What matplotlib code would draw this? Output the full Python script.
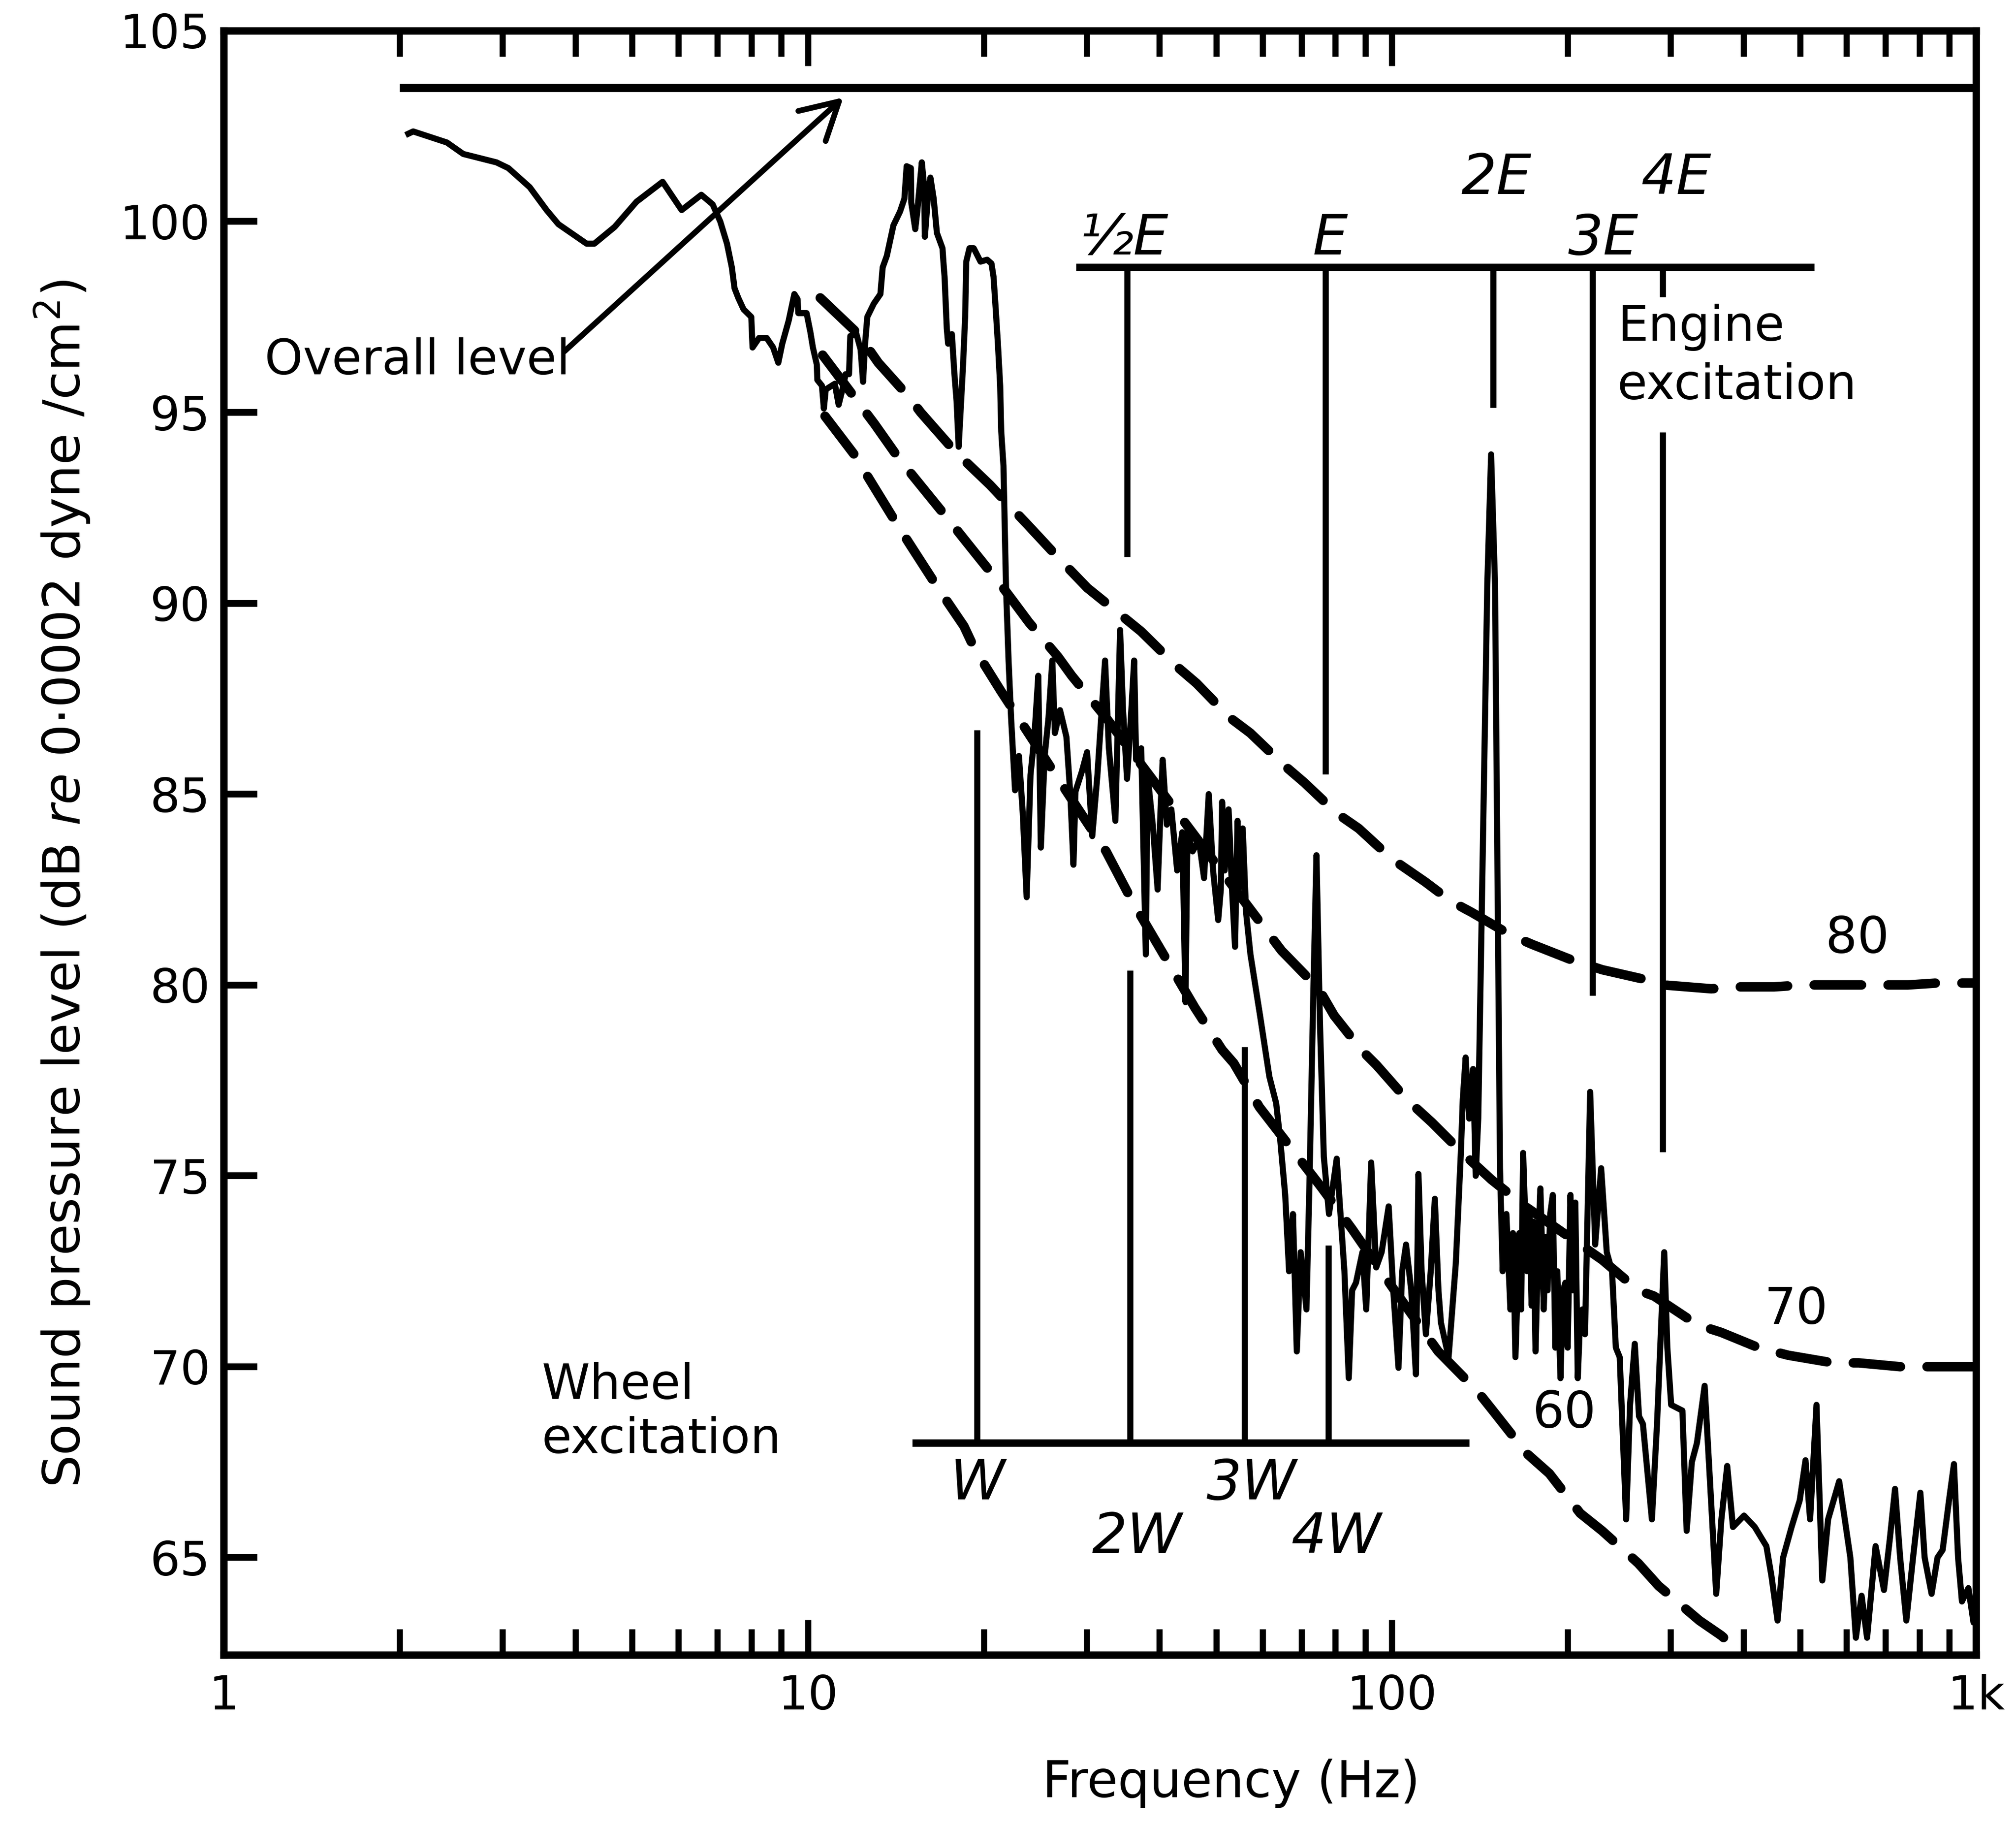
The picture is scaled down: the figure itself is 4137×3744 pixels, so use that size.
import matplotlib
matplotlib.use("Agg")
import matplotlib.pyplot as plt
from matplotlib.ticker import FixedLocator, LogLocator, NullFormatter

spec_low_hz = [2.07, 2.11, 2.41, 2.57, 2.93, 3.07, 3.34, 3.57, 3.74, 4.18,
               4.31, 4.67, 5.09, 5.64, 6.08, 6.57, 6.87, 7.08, 7.27, 7.41,
               7.49, 7.60, 7.76, 8.00, 8.04, 8.25, 8.50, 8.72, 8.90, 9.04,
               9.27, 9.48, 9.60, 9.63, 9.95, 10.10, 10.20, 10.36, 10.38, 10.57,
               10.65, 10.73, 11.12, 11.29, 11.50, 11.60, 11.76, 11.82, 12.11, 12.31,
               12.43, 12.53, 12.64, 12.97, 13.31, 13.43, 13.65, 14.01, 14.38, 14.63,
               14.76, 15.01, 15.03, 15.27, 15.39, 15.67, 15.82, 15.86, 16.08, 16.21,
               16.42, 16.63, 17.00, 17.07, 17.14, 17.29, 17.38, 17.64, 17.82, 17.97,
               18.12, 18.28, 18.43, 18.59, 18.67, 18.91, 19.23, 19.75, 20.27, 20.62,
               20.79, 20.97, 21.15, 21.34, 21.43, 21.62, 21.84, 22.06, 22.28, 22.63]
spec_low_db = [102.3, 102.36, 102.07, 101.77, 101.55, 101.4, 100.9, 100.3, 99.93, 99.42,
               99.42, 99.86, 100.52, 101.04, 100.3, 100.7, 100.45, 100.0, 99.42, 98.8,
               98.25, 98.0, 97.7, 97.5, 96.7, 96.95, 96.95, 96.7, 96.3, 96.8,
               97.4, 98.1, 97.97, 97.6, 97.6, 97.1, 96.7, 96.25, 95.85, 95.7,
               95.1, 95.6, 95.75, 95.2, 95.7, 96.0, 96.0, 97.0, 97.05, 96.65,
               95.8, 96.8, 97.5, 97.85, 98.1, 98.8, 99.1, 99.9, 100.26, 100.6,
               101.45, 101.4, 100.5, 99.8, 100.25, 101.55, 100.9, 99.6, 100.8, 101.15,
               100.6, 99.7, 99.3, 98.9, 98.55, 97.2, 96.8, 97.05, 96.0, 95.3,
               94.1, 95.2, 96.2, 97.5, 98.95, 99.3, 99.3, 98.95, 99.0, 98.9,
               98.55, 97.7, 96.8, 95.7, 94.5, 93.6, 90.4, 88.5, 87.0, 85.1]

spec_mid_hz = [22.98, 23.33, 23.69, 24.05, 24.42, 24.80, 25.05, 25.43, 25.82, 26.21,
               26.48, 27.02, 27.71, 28.14, 28.49, 28.72, 29.46, 30.06, 30.68, 31.31,
               31.78, 32.27, 32.76, 33.61, 33.95, 34.24, 34.64, 35.19, 35.73, 36.19,
               36.47, 37.21, 37.89, 38.16, 38.94, 39.7, 40.14, 40.5, 41.17, 41.91,
               42.88, 43.75, 44.31, 44.65, 45.57, 46.71, 47.67, 48.56, 49.40, 50.41,
               50.93, 51.2, 51.71, 52.51, 53.23, 53.86, 54.4, 54.68, 55.52, 56.26,
               57.24, 59.45, 61.67, 63.35,
               64.32, 65.64, 66.65, 67.68, 68.71, 69.77, 71.38, 72.28, 73.39, 74.26,
               75.29, 76.44, 78.01, 80.42, 81.89, 82.90, 84.34, 85.46, 86.77, 89.00,
               90.36, 92.13, 93.97, 96.0, 98.7, 100.5, 102.6, 104.1, 105.7, 107.9,
               109.9, 111.0, 112.4, 114.3, 116.5, 118.4, 120.1, 121.3, 125.0, 128.6,
               131.2, 132.2, 133.7, 135.6, 137.7, 139.1, 140.5, 145.6, 147.8, 150.1]
spec_mid_db = [86.0, 84.5, 82.3, 85.5, 86.5, 88.1, 83.6, 86.0, 87.0, 88.5,
               86.6, 87.2, 86.5, 85.0, 83.15, 85.07, 85.6, 86.1, 83.9, 85.5,
               87.0, 88.5, 86.2, 84.3, 87.0, 89.3, 87.2, 85.4, 87.0, 88.5,
               85.9, 86.2, 80.8, 85.5, 84.2, 82.5, 84.5, 85.9, 84.2, 84.6,
               83.0, 84.0, 79.55, 84.0, 83.5, 83.8, 82.8, 85.0, 83.0, 81.7,
               82.5, 84.8, 83.0, 84.6, 82.5, 81.0, 84.3, 82.5, 84.1, 81.9,
               80.8, 79.2, 77.6, 76.9,
               76.0, 74.5, 72.5, 74.0, 70.4, 73.0, 71.5, 75.0, 80.0, 83.4,
               79.0, 75.5, 74.0, 75.45, 73.7, 72.5, 69.7, 72.0, 72.2, 73.0,
               71.5, 75.35, 72.6, 73.0, 74.2, 72.0, 69.97, 72.5, 73.2, 72.0,
               69.8, 75.05, 72.5, 70.85, 72.5, 74.4, 72.0, 71.15, 70.25, 72.7,
               75.6, 77.0, 78.1, 76.5, 77.8, 75.0, 76.5, 90.5, 93.9, 90.5]

spec_high_hz = [153.1, 154.7, 157.0, 159.5, 161.1, 162.7, 165.2, 166.4, 167.7, 170.3,
                172.1, 173.4, 174.7, 176.1, 177.8, 179.5, 181.9, 183.3, 184.7, 186.6,
                188.5, 190.4, 191.9, 194.3, 196.3, 198.1, 199.9, 202.1, 204.0, 206.0,
                208.0, 210.1, 211.8, 214.0,
                218.4, 222.8, 228.1, 233.2, 238.1, 241.7, 245.4, 251.7,
                255.6, 260.4, 264.8, 268.9, 278.6, 284.3, 292.5, 296.1, 300.6, 314.2,
                319.5, 326.1, 332.7, 343.0, 350.9, 359.0, 366.4, 374.9, 383.5, 400.6,
                418.0, 437.5, 446.5, 457.2, 467.3, 483.2, 499.0, 510.5, 519.8, 533.1,
                545.4, 558.0, 582.9, 596.0, 609.2, 622.6, 636.8, 650.7, 672.9, 695.5,
                711.9, 726.5, 741.3, 759.6, 780.0, 802.8, 816.4, 839.1, 858.9, 876.5,
                898.9, 916.5, 931.5, 945.8, 970.1, 989.9, 1000.0]
spec_high_db = [75.2, 72.5, 74.0, 71.5, 73.5, 70.25, 73.5, 71.5, 75.6, 72.5,
                74.0, 71.6, 73.8, 70.4, 73.0, 74.67, 71.5, 73.4, 72.0, 74.0,
                74.5, 70.5, 72.5, 69.7, 72.0, 72.2, 70.5, 74.5, 72.0, 74.3,
                69.7, 71.4, 71.5, 70.85,
                77.2, 73.2, 75.2, 73.0, 72.5, 70.5, 70.25, 66.0,
                69.0, 70.6, 68.7, 68.5, 66.0, 68.5, 73.0, 70.5, 69.0, 68.85,
                65.7, 67.5, 68.0, 69.5, 66.8, 64.05, 66.0, 67.4, 65.8, 66.1,
                65.8, 65.3, 64.5, 63.35, 65.0, 65.8, 66.5, 67.55, 66.0, 69.0,
                64.4, 66.0, 67.0, 66.0, 65.0, 62.9, 64.0, 62.9, 65.3, 64.15,
                65.5, 66.8, 65.0, 63.35, 65.0, 66.7, 65.0, 64.05, 65.0, 65.2,
                66.5, 67.45, 65.0, 63.85, 64.2, 63.3, 63.4]

# dashed rating curves
nr80_hz = [10.5, 12.2, 13.2, 14.9, 15.6, 17.8, 20.5, 23.8, 26.8, 30.1,
           34.3, 37.2, 42.7, 46.3, 52.8, 57.2, 65.3, 70.8, 80.4, 87.7,
           100, 114, 126, 137, 160, 174, 202, 229, 270, 292,
           352, 391, 451, 504, 596, 656, 764, 855, 1000]
nr80_db = [98.0, 97.05, 96.3, 95.4, 95.0, 94.0, 93.1, 92.05, 91.2, 90.4,
           89.7, 89.26, 88.36, 87.9, 87.0, 86.6, 85.76, 85.3, 84.5, 84.1,
           83.3, 82.7, 82.2, 81.9, 81.3, 81.06, 80.67, 80.4, 80.15, 80.0,
           79.9, 79.95, 79.95, 80.0, 80.0, 80.0, 80.0, 80.05, 80.05]
nr70_hz = [10.6, 13.0, 14.3, 17.6, 21.6, 22.6, 23.9, 26.8, 28.3, 32.4,
           46.0, 64.7, 74.9, 79.6, 88.6, 94.1, 106, 117, 132, 148,
           169, 229, 264, 281, 333, 366, 424, 477, 569, 630,
           741, 837, 1000]
nr70_db = [96.5, 94.7, 93.8, 92.1, 90.4, 90.0, 89.5, 88.6, 88.1, 87.0,
           83.9, 80.9, 79.9, 79.2, 78.3, 77.9, 77.0, 76.4, 75.6, 74.9,
           74.2, 72.8, 72.0, 71.85, 71.1, 70.9, 70.5, 70.3, 70.1, 70.1,
           70.0, 70.0, 70.0]
nr60_hz = [10.7, 12.0, 14.3, 16.7, 18.5, 19.3, 21.4, 26.3, 32.4, 35.9,
           46.0, 51.2, 53.6, 59.3, 75.7, 85.5, 101, 120, 140, 149,
           170, 186, 210, 229, 264, 286, 336, 366, 418]
nr60_db = [94.9, 93.9, 92.0, 90.4, 89.4, 88.8, 87.7, 85.6, 83.5, 82.2,
           79.4, 78.3, 77.95, 76.8, 74.7, 73.6, 72.0, 70.4, 69.36, 68.84,
           67.73, 67.2, 66.16, 65.7, 64.85, 64.26, 63.35, 62.96, 62.2]
nr_labels = ["80", "70", "60"]

overall_hz = [2.0, 1000.0]
overall_db = 103.5

wheel_labels = ["W", "2W", "3W", "4W"]
wheel_hz = [19.5, 35.6, 55.9, 77.8]
wheel_top_db = [86.6, 80.3, 78.3, 73.1]
wheel_base_hz = [15.1, 135.6]
wheel_base_db = 68.0

engine_labels = ["½E", "E", "2E", "3E", "4E"]
engine_hz = [35.2, 77.0, 148.9, 220.5, 290.9]
engine_bottom_db = [91.3, 85.6, 95.2, 79.8, 75.7]
engine_base_hz = [28.8, 528.0]
engine_base_db = 98.8
engine_4e_gap_db = (98.1, 94.4)

FONT = "DejaVu Sans"
LW_AXES = 5.5


def setup_axes(ax):
    ax.set_xscale("log")
    ax.set_xlim(1, 1000)
    ax.set_ylim(62.45, 105)
    for side in ["left", "right", "top", "bottom"]:
        ax.spines[side].set_linewidth(LW_AXES)
    ax.xaxis.set_major_locator(FixedLocator([1, 10, 100, 1000]))
    ax.set_xticklabels(["1", "10", "100", "1k"])
    ax.xaxis.set_minor_locator(LogLocator(base=10, subs=range(2, 10)))
    ax.xaxis.set_minor_formatter(NullFormatter())
    ax.set_yticks(range(65, 106, 5))
    ax.tick_params(axis="x", which="both", direction="in", top=True, bottom=True,
                   width=4.5, labelsize=35, pad=14)
    ax.tick_params(axis="x", which="major", length=26)
    ax.tick_params(axis="x", which="minor", length=19)
    ax.tick_params(axis="y", which="major", direction="in", left=True, right=False,
                   length=25, width=5, labelsize=35, pad=10)


def draw_excitation(ax):
    # wheel harmonics sit on a baseline near the bottom
    ax.plot(wheel_base_hz, [wheel_base_db] * 2, color="black", lw=5.5, solid_capstyle="butt")
    for f, top in zip(wheel_hz, wheel_top_db):
        ax.plot([f, f], [wheel_base_db, top], color="black", lw=4.5)
    # engine harmonics hang from a baseline near the top
    ax.plot(engine_base_hz, [engine_base_db] * 2, color="black", lw=5.5, solid_capstyle="butt")
    for lab, f, bot in zip(engine_labels, engine_hz, engine_bottom_db):
        if lab == "4E":
            ax.plot([f, f], [engine_base_db, engine_4e_gap_db[0]], color="black", lw=4.5)
            ax.plot([f, f], [engine_4e_gap_db[1], bot], color="black", lw=4.5)
        else:
            ax.plot([f, f], [engine_base_db, bot], color="black", lw=4.5)


def draw_labels(ax):
    ital = dict(fontsize=41, fontstyle="italic", ha="center", va="baseline", family=FONT)
    for lab, pos in zip(engine_labels, [(34.8, 99.14), (78.4, 99.14), (150.8, 100.72),
                                        (229.8, 99.14), (306.7, 100.72)]):
        ax.text(pos[0], pos[1], lab, **ital)
    for lab, pos in zip(wheel_labels, [(19.5, 66.52), (36.6, 65.12), (57.45, 66.52), (80.4, 65.12)]):
        ax.text(pos[0], pos[1], lab, **ital)

    plain = dict(fontsize=36, va="baseline", family=FONT)
    ax.text(243, 96.88, "Engine", ha="left", **plain)
    ax.text(243, 95.34, "excitation", ha="left", **plain)
    ax.text(3.5, 69.16, "Wheel", ha="left", **plain)
    ax.text(3.5, 67.74, "excitation", ha="left", **plain)
    ax.text(1.174, 96.0, "Overall level", ha="left", **plain)

    for lab, pos in zip(nr_labels, [(626.6, 81.2), (491.6, 71.48), (197.3, 68.77)]):
        ax.text(pos[0], pos[1], lab, fontsize=37, ha="center", va="center", family=FONT)

    ax.annotate("", xy=(11.5, 103.25), xytext=(3.83, 96.6),
                arrowprops=dict(arrowstyle="->,head_length=0.45,head_width=0.25",
                                lw=4.2, color="black", mutation_scale=60,
                                shrinkA=0, shrinkB=0))

    ax.text(-0.092, 0.475, "Sound pressure level (dB $\\mathit{re}$ 0·0002 dyne /cm$^2$)",
            transform=ax.transAxes, rotation=90, ha="center", va="center",
            fontsize=38, family=FONT)
    ax.text(0.575, -0.079, "Frequency (Hz)", transform=ax.transAxes,
            ha="center", va="center", fontsize=37, family=FONT)


def main():
    plt.rcParams["font.family"] = FONT
    plt.rcParams["mathtext.fontset"] = "dejavusans"
    fig = plt.figure(figsize=(20.685, 18.72), dpi=200)
    ax = fig.add_axes([0.111, 0.0932, 0.8692, 0.890])
    setup_axes(ax)

    spec_hz = spec_low_hz + spec_mid_hz + spec_high_hz
    spec_db = spec_low_db + spec_mid_db + spec_high_db
    ax.plot(spec_hz, spec_db, color="black", lw=4.5, solid_joinstyle="round")

    ax.plot(overall_hz, [overall_db] * 2, color="black", lw=6, solid_capstyle="butt")

    for hz, db in [(nr80_hz, nr80_db), (nr70_hz, nr70_db), (nr60_hz, nr60_db)]:
        ax.plot(hz, db, color="black", lw=7, linestyle=(0, (5.0, 2.8)),
                dash_capstyle="round")

    draw_excitation(ax)
    draw_labels(ax)

    fig.savefig("out.png", dpi=200, facecolor="white")
    plt.close(fig)


if __name__ == "__main__":
    main()
